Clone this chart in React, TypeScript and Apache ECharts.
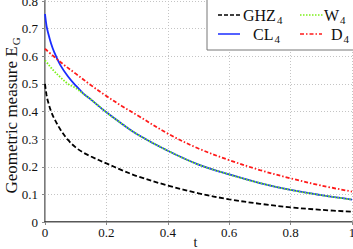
import React, { useEffect, useRef } from "react";
import * as echarts from "echarts";

// GHZ4 (black dashed)
const ghzT = [0, 0.005, 0.01, 0.02, 0.03, 0.05, 0.075, 0.1, 0.125, 0.15, 0.2, 0.25, 0.3, 0.4, 0.5, 0.6, 0.7, 0.8, 0.9, 1.0];
const ghzV = [0.5, 0.46, 0.435, 0.4, 0.375, 0.335, 0.297, 0.27, 0.251, 0.237, 0.212, 0.188, 0.166, 0.132, 0.104, 0.082, 0.066, 0.053, 0.044, 0.037];

// CL4 (blue solid)
const clT = [0, 0.005, 0.01, 0.02, 0.03, 0.05, 0.075, 0.1, 0.125, 0.15, 0.2, 0.25, 0.3, 0.4, 0.5, 0.6, 0.7, 0.8, 0.9, 1.0];
const clV = [0.753, 0.71, 0.685, 0.645, 0.615, 0.568, 0.527, 0.494, 0.465, 0.443, 0.397, 0.356, 0.318, 0.258, 0.208, 0.172, 0.141, 0.116, 0.097, 0.081];

// W4 (green dotted)
const wT = [0, 0.01, 0.02, 0.03, 0.05, 0.075, 0.1, 0.125, 0.15, 0.2, 0.25, 0.3, 0.4, 0.5, 0.6, 0.7, 0.8, 0.9, 1.0];
const wV = [0.585, 0.572, 0.558, 0.546, 0.524, 0.5, 0.485, 0.464, 0.443, 0.397, 0.356, 0.318, 0.258, 0.208, 0.172, 0.141, 0.116, 0.097, 0.081];

// D4 (red dash-dot)
const dT = [0, 0.05, 0.1, 0.15, 0.2, 0.25, 0.3, 0.4, 0.5, 0.6, 0.7, 0.8, 0.9, 1.0];
const dV = [0.627, 0.579, 0.537, 0.495, 0.456, 0.42, 0.387, 0.32, 0.266, 0.224, 0.188, 0.158, 0.132, 0.11];

const xTicks = { min: 0, max: 1, interval: 0.2 };
const yTicks = { min: 0, max: 0.8, interval: 0.1 };

const FONT = "Liberation Serif, Times New Roman, serif";

const zip = (t: number[], v: number[]) => t.map((x, i) => [x, v[i]]);

export default function App() {
  const ref = useRef<HTMLDivElement>(null);
  useEffect(() => {
    if (!ref.current) return;
    const chart = echarts.init(ref.current, null, { renderer: "svg" });
    const gridLine = { show: true, lineStyle: { color: "#c4c4c4", type: [1, 2] as any, width: 1 } };
    const legendText = (x: number, y: number, main: string, sub: string) => ({
      type: "text",
      x,
      y,
      z: 101,
      style: {
        text: `{a|${main}}{b|${sub}}`,
        verticalAlign: "middle",
        align: "left",
        fontFamily: FONT,
        rich: {
          a: { fontFamily: FONT, fontSize: 16, fill: "#111", color: "#111" },
          b: { fontFamily: FONT, fontSize: 11, fill: "#111", color: "#111", padding: [9, 0, 0, 1] },
        },
      },
    });
    const lineCommon = { type: "line", smooth: 0.35, symbol: "none", z: 3 };
    chart.setOption({
      animation: false,
      backgroundColor: "#fff",
      textStyle: { fontFamily: FONT },
      grid: { left: 45, right: 1, top: 1, bottom: 27, containLabel: false, outerBoundsMode: "none" },
      xAxis: [
        {
          type: "value",
          ...xTicks,
          name: "t",
          nameLocation: "middle",
          nameGap: 13,
          nameMoveOverlap: false,
          nameTextStyle: { fontFamily: FONT, fontSize: 14, color: "#111", padding: [0, 6, 0, 0] },
          axisLine: { show: true, lineStyle: { color: "#222", width: 1.5 } },
          axisTick: { show: false },
          axisLabel: { fontFamily: FONT, fontSize: 13, color: "#111", margin: 4 },
          splitLine: gridLine,
        },
        {
          type: "value",
          ...xTicks,
          position: "top",
          axisLine: { show: true, lineStyle: { color: "#aaa", width: 1 } },
          axisTick: { show: true, inside: true, length: 3, lineStyle: { color: "#888" } },
          axisLabel: { show: false },
          splitLine: { show: false },
        },
      ],
      yAxis: [
        {
          type: "value",
          ...yTicks,
          name: "{a|Geometric measure E}{b|G}",
          nameLocation: "middle",
          nameGap: 24,
          nameMoveOverlap: false,
          nameTextStyle: {
            fontFamily: FONT,
            padding: [0, 8, 0, 0],
            rich: {
              a: { fontFamily: FONT, fontSize: 17, color: "#111" },
              b: { fontFamily: FONT, fontSize: 11, color: "#111", padding: [9, 0, 0, 1] },
            },
          },
          axisLine: { show: true, lineStyle: { color: "#7a7a7a", width: 2 } },
          axisTick: { show: false },
          axisLabel: { fontFamily: FONT, fontSize: 13, color: "#111", margin: 7 },
          splitLine: gridLine,
        },
        {
          type: "value",
          ...yTicks,
          position: "right",
          axisLine: { show: true, lineStyle: { color: "#aaa", width: 1 } },
          axisTick: { show: true, inside: true, length: 3, lineStyle: { color: "#888" } },
          axisLabel: { show: false },
          splitLine: { show: false },
        },
      ],
      series: [
        {
          ...lineCommon,
          name: "GHZ4",
          data: zip(ghzT, ghzV),
          lineStyle: { color: "#000", width: 1.8, type: [5, 2.5] as any },
        },
        {
          ...lineCommon,
          name: "CL4",
          data: zip(clT, clV),
          lineStyle: { color: "#1a2cff", width: 1.8, type: "solid" },
        },
        {
          ...lineCommon,
          name: "W4",
          data: zip(wT, wV),
          lineStyle: { color: "#7cf01a", width: 1.8, type: [1.5, 1.5] as any },
          z: 4,
        },
        {
          ...lineCommon,
          name: "D4",
          data: zip(dT, dV),
          lineStyle: { color: "#ff1a1a", width: 1.8, type: [4, 2, 1.5, 2] as any },
        },
      ],
      graphic: [
        {
          type: "rect",
          shape: { x: 207, y: -2, width: 150, height: 52 },
          style: { fill: "#fff", stroke: "#777", lineWidth: 1 },
          z: 100,
        },
        { type: "line", shape: { x1: 218, y1: 15, x2: 240, y2: 15 }, style: { stroke: "#000", lineWidth: 1.5, lineDash: [4, 2] }, z: 101 },
        { type: "line", shape: { x1: 218, y1: 34, x2: 240, y2: 34 }, style: { stroke: "#1a2cff", lineWidth: 1.5 }, z: 101 },
        { type: "line", shape: { x1: 300, y1: 15, x2: 323, y2: 15 }, style: { stroke: "#7cf01a", lineWidth: 1.5, lineDash: [1.5, 1.5] }, z: 101 },
        { type: "line", shape: { x1: 300, y1: 34, x2: 322, y2: 34 }, style: { stroke: "#ff1a1a", lineWidth: 1.5, lineDash: [4, 2, 1.5, 2] }, z: 101 },
        legendText(243, 15, "GHZ", "4"),
        legendText(253, 34, "CL", "4"),
        legendText(324, 15, "W", "4"),
        legendText(331, 34, "D", "4"),
      ],
    });
    return () => chart.dispose();
  }, []);
  return <div ref={ref} style={{ width: 353, height: 249, position: "absolute", left: 0, top: 0 }} />;
}
